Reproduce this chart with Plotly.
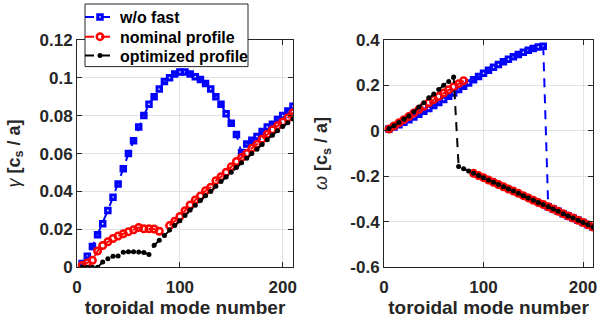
import plotly.graph_objects as go

# ---------------- data ----------------
mode_n = list(range(5, 215, 5))  # toroidal mode numbers 5..210

gamma_wofast = [0.002, 0.0058, 0.011, 0.0172, 0.023, 0.030, 0.037, 0.044, 0.052, 0.060,
                0.0667, 0.074, 0.080, 0.086, 0.090, 0.094, 0.098, 0.100, 0.102, 0.103,
                0.103, 0.102, 0.1005, 0.099, 0.097, 0.094, 0.090, 0.086, 0.081, 0.076,
                0.070, 0.0605, 0.065, 0.067, 0.069, 0.0716, 0.074, 0.0755, 0.078, 0.080,
                0.0825, 0.085]
omega_wofast = [0.008, 0.017, 0.027, 0.038, 0.049, 0.061, 0.073, 0.086, 0.098, 0.111,
                0.124, 0.138, 0.152, 0.166, 0.181, 0.196, 0.210, 0.224, 0.239, 0.253,
                0.266, 0.279, 0.291, 0.303, 0.314, 0.325, 0.335, 0.345, 0.354, 0.362,
                0.368, 0.372,
                -0.334, -0.344, -0.354, -0.364, -0.374, -0.383, -0.393, -0.403, -0.413, -0.423]

gamma_nominal = [0.001, 0.0023, 0.0037, 0.0086, 0.0115, 0.0135, 0.0152, 0.0165, 0.0177, 0.0188,
                 0.0198, 0.0210, 0.0203, 0.0203, 0.0202, 0.0190,
                 None,
                 0.0220, 0.0243, 0.0268, 0.0299, 0.0329, 0.0355, 0.0376, 0.0404, 0.0422, 0.0457,
                 0.0478, 0.0502, 0.0530, 0.0558, 0.0579, 0.0600, 0.0628, 0.0649, 0.0676, 0.0702,
                 0.0725, 0.0746, 0.0767, 0.0789, 0.0815]
omega_nominal = [0.008, 0.021, 0.035, 0.049, 0.063, 0.078, 0.093, 0.108, 0.123, 0.137,
                 0.151, 0.166, 0.180, 0.194, 0.207, 0.220,
                 None,
                 -0.187, -0.197, -0.206, -0.216, -0.226, -0.236, -0.246, -0.256, -0.265, -0.275,
                 -0.285, -0.295, -0.305, -0.315, -0.324, -0.334, -0.344, -0.354, -0.364, -0.374,
                 -0.383, -0.393, -0.403, -0.413, -0.423]

gamma_optimized = [0.0, 0.0, 0.0, 0.0, 0.0028, 0.0045, 0.0058, 0.0060, 0.0080, 0.0082,
                   0.0082, 0.0081, 0.0078, 0.0068,
                   0.0116, 0.0143, 0.0168,
                   0.0197, 0.0220, 0.0245, 0.0273, 0.0302, 0.0328, 0.0352, 0.0377, 0.0400, 0.0428,
                   0.0453, 0.0476, 0.0502, 0.0527, 0.0551, 0.0575, 0.0600, 0.0623, 0.0648, 0.0673,
                   0.0697, 0.0720, 0.0743, 0.0762, 0.0782]
omega_optimized = [0.010, 0.022, 0.036, 0.051, 0.065, 0.084, 0.104, 0.123, 0.145, 0.162,
                   0.181, 0.200, 0.217, 0.236,
                   -0.157, -0.167, -0.177,
                   -0.187, -0.197, -0.206, -0.216, -0.226, -0.236, -0.246, -0.256, -0.265, -0.275,
                   -0.285, -0.295, -0.305, -0.315, -0.324, -0.334, -0.344, -0.354, -0.364, -0.374,
                   -0.383, -0.393, -0.403, -0.413, -0.423]

series_names = ["w/o fast", "nominal profile", "optimized profile"]
x_tickvals = [0, 100, 200]
x_ticktext = ["0", "100", "200"]
g_tickvals = [0, 0.02, 0.04, 0.06, 0.08, 0.1, 0.12]
g_ticktext = ["0", "0.02", "0.04", "0.06", "0.08", "0.1", "0.12"]
w_tickvals = [-0.6, -0.4, -0.2, 0, 0.2, 0.4]
w_ticktext = ["-0.6", "-0.4", "-0.2", "0", "0.2", "0.4"]

# ---------------- styles ----------------
BLUE, RED, BLACK = "#0000ff", "#ff0000", "#000000"
AX = "#262626"
GRID = "#e2e2e2"
FONT = "Liberation Sans, Arial, sans-serif"
DASH = "9px,7px"
W, H = 600, 321

styles = [
    dict(color=BLUE, symbol="square-open", size=4.5, mlw=3),
    dict(color=RED, symbol="circle-open", size=6.5, mlw=2.5),
    dict(color=BLACK, symbol="circle", size=5, mlw=0),
]
legend_ids = ["legend", "legend2", "legend3"]
legend_centers_px = [15, 35, 54]

fig = go.Figure()
gammas = [gamma_wofast, gamma_nominal, gamma_optimized]
omegas = [omega_wofast, omega_nominal, omega_optimized]

for i, (name, st) in enumerate(zip(series_names, styles)):
    common = dict(
        mode="lines+markers",
        line=dict(color=st["color"], width=2, dash=DASH),
        marker=dict(symbol=st["symbol"], size=st["size"], color=st["color"],
                    line=dict(color=st["color"], width=st["mlw"])),
        connectgaps=False,
    )
    fig.add_trace(go.Scatter(x=mode_n, y=gammas[i], name=name, showlegend=True,
                             legend=legend_ids[i], xaxis="x", yaxis="y", **common))
    fig.add_trace(go.Scatter(x=mode_n, y=omegas[i], name=name, showlegend=False,
                             xaxis="x2", yaxis="y2", **common))

axis_common = dict(
    showline=True, linecolor=AX, linewidth=1, mirror="ticks",
    ticks="inside", ticklen=5, tickcolor=AX, tickwidth=1,
    showgrid=True, gridcolor=GRID, gridwidth=1, zeroline=False,
    automargin=False,
    tickfont=dict(family=FONT, size=17, color=AX, weight="bold"),
)

ydom = [1 - 267 / H, 1 - 38 / H]
xtitle = dict(text="toroidal mode number", standoff=0,
              font=dict(family=FONT, size=19, color=AX, weight="bold"))

legend_common = dict(
    x=80 / W, xanchor="left", yanchor="middle",
    bgcolor="rgba(0,0,0,0)", borderwidth=0,
    font=dict(family=FONT, size=16, color="#000000", weight="bold"),
    itemwidth=30,
)

layout_legends = {}
for lid, yc in zip(legend_ids, legend_centers_px):
    layout_legends[lid] = dict(y=1 - yc / H, **legend_common)

fig.update_layout(
    width=W, height=H,
    margin=dict(l=0, r=0, t=0, b=0),
    paper_bgcolor="white", plot_bgcolor="white",
    font=dict(family=FONT, size=16, color=AX, weight="bold"),
    xaxis=dict(domain=[77 / W, 293 / W], range=[0, 210], anchor="y",
               tickvals=x_tickvals, ticktext=x_ticktext, title=xtitle,
               ticklabelstandoff=4, **axis_common),
    yaxis=dict(domain=ydom, range=[0, 0.12], anchor="x",
               tickvals=g_tickvals, ticktext=g_ticktext,
               title=dict(text="<span style='font-weight:normal'><i>γ</i></span> [c<sub>s</sub> / a]",
                          standoff=14,
                          font=dict(family=FONT, size=18, color=AX, weight="bold")),
               **axis_common),
    xaxis2=dict(domain=[384 / W, 593 / W], range=[0, 210], anchor="y2",
                tickvals=x_tickvals, ticktext=x_ticktext, title=xtitle,
                ticklabelstandoff=4, **axis_common),
    yaxis2=dict(domain=ydom, range=[-0.6, 0.4], anchor="x2",
                tickvals=w_tickvals, ticktext=w_ticktext,
                title=dict(text="<span style='font-weight:normal'><i>ω</i></span> [c<sub>s</sub> / a]",
                           standoff=17,
                           font=dict(family=FONT, size=18, color=AX, weight="bold")),
                **axis_common),
    shapes=[dict(type="rect", xref="paper", yref="paper",
                 x0=85 / W, x1=248 / W, y0=1 - 65 / H, y1=1 - 2 / H,
                 line=dict(color=AX, width=1), fillcolor="white", layer="above")],
    **layout_legends,
)

fig.write_html("out.html")
